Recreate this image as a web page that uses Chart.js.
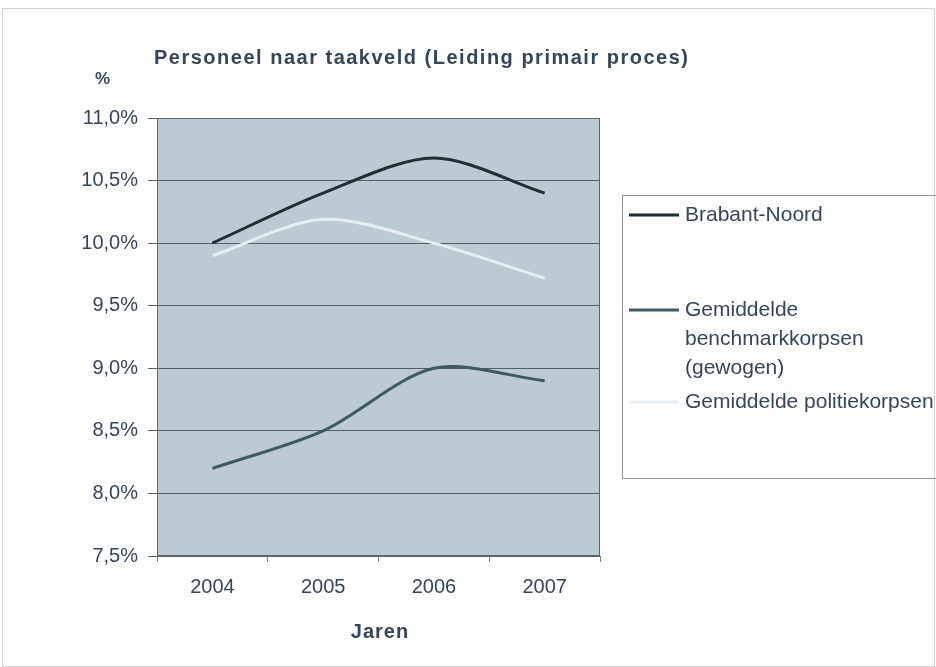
<!DOCTYPE html>
<html>
<head>
<meta charset="utf-8">
<script src="https://cdn.jsdelivr.net/npm/chart.js@4.4.1/dist/chart.umd.min.js"></script>
<style>
  html, body { margin: 0; padding: 0; background: #ffffff; }
  #wrap { width: 936px; height: 667px; }
</style>
</head>
<body>
<div id="wrap"><canvas id="myChart" width="936" height="667"></canvas></div>
<script>
const years = ["2004", "2005", "2006", "2007"];
const brabantNoord = [10.0, 10.4, 10.68, 10.4];
const benchmarkKorpsen = [8.2, 8.5, 9.0, 8.9];
const politieKorpsen = [9.9, 10.19, 10.0, 9.72];
const yTicks = [7.5, 8.0, 8.5, 9.0, 9.5, 10.0, 10.5, 11.0];

const textColor = '#34475a';
const font = '"Liberation Sans", Arial, sans-serif';

// background, plot frame, titles and the legend box
const decor = {
  id: 'decor',
  beforeDraw(chart) {
    const c = chart.ctx, a = chart.chartArea;
    c.save();
    c.fillStyle = '#ffffff';
    c.fillRect(0, 0, chart.width, chart.height);
    c.strokeStyle = '#cfd3d6';
    c.lineWidth = 1;
    c.strokeRect(2.5, 8.5, chart.width - 4, chart.height - 9);
    c.fillStyle = '#bccad4';
    c.fillRect(a.left, a.top, a.right - a.left, a.bottom - a.top);
    c.restore();
  },
  afterDraw(chart) {
    const c = chart.ctx, a = chart.chartArea;
    c.save();
    c.strokeStyle = '#56676e';
    c.lineWidth = 1;
    c.strokeRect(a.left + 0.5, a.top + 0.5, a.right - a.left - 1, a.bottom - a.top - 1);

    c.fillStyle = textColor;
    c.textBaseline = 'middle';
    c.textAlign = 'left';
    c.font = 'bold 20px ' + font;
    c.letterSpacing = '1.5px';
    c.fillText('Personeel naar taakveld (Leiding primair proces)', 154, 58);
    c.letterSpacing = '0px';
    c.font = 'bold 17px ' + font;
    c.fillText('%', 95, 79);
    c.textAlign = 'center';
    c.font = 'bold 20px ' + font;
    c.letterSpacing = '1px';
    c.fillText('Jaren', 380, 632);
    c.letterSpacing = '0px';

    // legend
    c.strokeStyle = '#8d979c';
    c.lineWidth = 1;
    c.strokeRect(622.5, 195.5, 330, 283);
    const items = [
      { color: '#1f3034', y: 215, lines: ['Brabant-Noord'] },
      { color: '#3b5b60', y: 310, lines: ['Gemiddelde', 'benchmarkkorpsen', '(gewogen)'] },
      { color: '#e6eef1', y: 402, lines: ['Gemiddelde politiekorpsen'] }
    ];
    c.font = '21px ' + font;
    c.textAlign = 'left';
    items.forEach(it => {
      c.strokeStyle = it.color;
      c.lineWidth = 3;
      c.beginPath();
      c.moveTo(629, it.y);
      c.lineTo(679, it.y);
      c.stroke();
      c.fillStyle = textColor;
      it.lines.forEach((t, i) => c.fillText(t, 685, it.y + i * 29));
    });
    c.restore();
  }
};

var ctx = document.getElementById('myChart').getContext('2d');
var chart = new Chart(ctx, {
  type: 'line',
  data: {
    labels: years,
    datasets: [{
      label: 'Brabant-Noord',
      data: brabantNoord,
      borderColor: '#1f3034',
      borderWidth: 3,
      pointRadius: 0,
      tension: 0.3
    }, {
      label: 'Gemiddelde benchmarkkorpsen (gewogen)',
      data: benchmarkKorpsen,
      borderColor: '#3b5b60',
      borderWidth: 3,
      pointRadius: 0,
      tension: 0.3
    }, {
      label: 'Gemiddelde politiekorpsen',
      data: politieKorpsen,
      borderColor: '#e6eef1',
      borderWidth: 3,
      pointRadius: 0,
      tension: 0.3
    }]
  },
  options: {
    responsive: false,
    animation: false,
    layout: { padding: { top: 118, right: 336, bottom: 0, left: 0 } },
    plugins: {
      legend: { display: false },
      tooltip: { enabled: false }
    },
    scales: {
      x: {
        offset: true,
        afterFit(scale) { scale.height = 111; },
        border: { display: true, color: '#56676e' },
        grid: {
          offset: true,
          drawOnChartArea: false,
          drawTicks: true,
          tickLength: 6,
          color: '#7d8a90'
        },
        ticks: {
          color: textColor,
          font: { family: font, size: 20 },
          padding: 13,
          maxRotation: 0
        }
      },
      y: {
        min: 7.5,
        max: 11.0,
        afterFit(scale) { scale.width = 157; },
        afterBuildTicks(scale) { scale.ticks = yTicks.map(v => ({ value: v })); },
        border: { display: true, color: '#56676e' },
        grid: {
          color: '#51636a',
          lineWidth: 1,
          tickLength: 9
        },
        ticks: {
          color: textColor,
          font: { family: font, size: 20 },
          padding: 10,
          callback: v => v.toFixed(1).replace('.', ',') + '%'
        }
      }
    }
  },
  plugins: [decor]
});
</script>
</body>
</html>
